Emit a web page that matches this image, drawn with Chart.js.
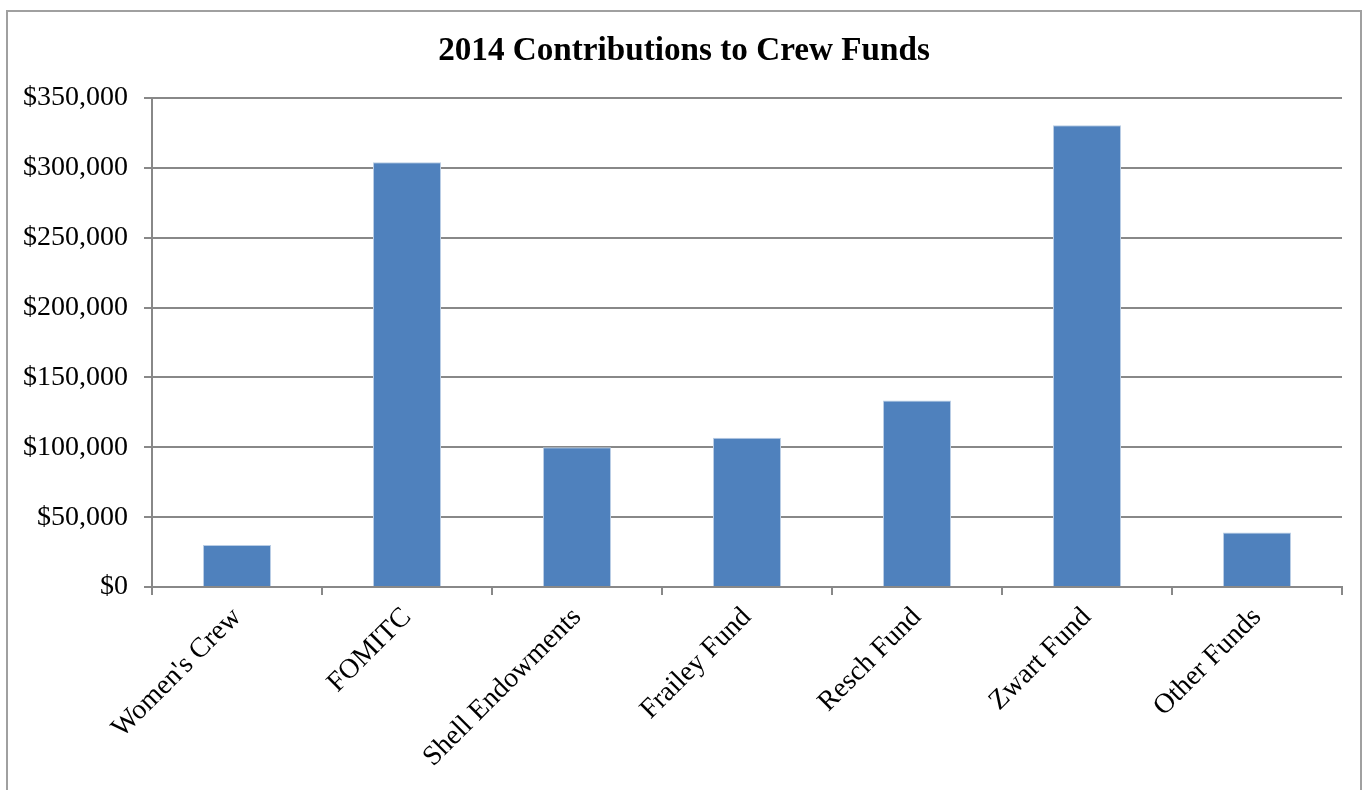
<!DOCTYPE html>
<html>
<head>
<meta charset="utf-8">
<script src="https://cdn.jsdelivr.net/npm/chart.js@4"></script>
<style>
  html, body { margin: 0; padding: 0; background: #fff; width: 1368px; height: 790px; overflow: hidden; }
  #frame { position: absolute; left: 6px; top: 10px; width: 1356px; height: 800px; border: 2px solid #a0a0a0; box-sizing: border-box; pointer-events: none; }
  #wrap { position: absolute; left: 0; top: 0; width: 1368px; height: 790px; }
</style>
</head>
<body>
<div id="wrap"><canvas id="c" width="1368" height="790"></canvas></div>
<div id="frame"></div>
<script>
const categories = ["Women's Crew", "FOMITC", "Shell Endowments", "Frailey Fund", "Resch Fund", "Zwart Fund", "Other Funds"];
const contributions = [30000, 304000, 100000, 106800, 133500, 330500, 39000];
const yTickMax = 350000;
const yTickStep = 50000;
const chartTitle = "2014 Contributions to Crew Funds";

const serif = "'Liberation Serif', 'Times New Roman', serif";

new Chart(document.getElementById('c'), {
  type: 'bar',
  data: {
    labels: categories,
    datasets: [{
      data: contributions,
      backgroundColor: '#4F81BD',
      borderColor: '#B9CDE5',
      borderWidth: 1,
      barPercentage: 0.4,
      categoryPercentage: 1.0
    }]
  },
  options: {
    responsive: false,
    animation: false,
    devicePixelRatio: 1,
    layout: { padding: 0 },
    plugins: {
      legend: { display: false },
      tooltip: { enabled: false },
      title: {
        display: true,
        text: chartTitle,
        color: '#000',
        font: { family: serif, size: 33.2, weight: 'bold', lineHeight: 1.2 },
        padding: { top: 32, bottom: 26.2 }
      }
    },
    scales: {
      x: {
        grid: { display: true, drawOnChartArea: false, drawTicks: true, tickLength: 8, color: '#888', lineWidth: 2, offset: true },
        border: { display: true, color: '#888', width: 2 },
        ticks: {
          color: '#000',
          font: { family: serif, size: 28 },
          maxRotation: 45, minRotation: 45,
          padding: 6,
          autoSkip: false
        },
        afterFit: (s) => { s.height = 790 - 587; }
      },
      y: {
        min: 0,
        max: yTickMax,
        grid: { color: '#888', lineWidth: 2, tickLength: 8, drawTicks: true },
        border: { display: true, color: '#888', width: 2 },
        ticks: {
          stepSize: yTickStep,
          color: '#000',
          font: { family: serif, size: 28 },
          padding: 16,
          callback: (v) => '$' + Number(v).toLocaleString('en-US')
        },
        afterFit: (s) => { s.width = 152; }
      },
      yRightSpace: {
        position: 'right',
        display: true,
        grid: { display: false, drawOnChartArea: false, drawTicks: false },
        border: { display: false },
        ticks: { display: false },
        afterFit: (s) => { s.width = 26; }
      }
    }
  }
});
</script>
</body>
</html>
